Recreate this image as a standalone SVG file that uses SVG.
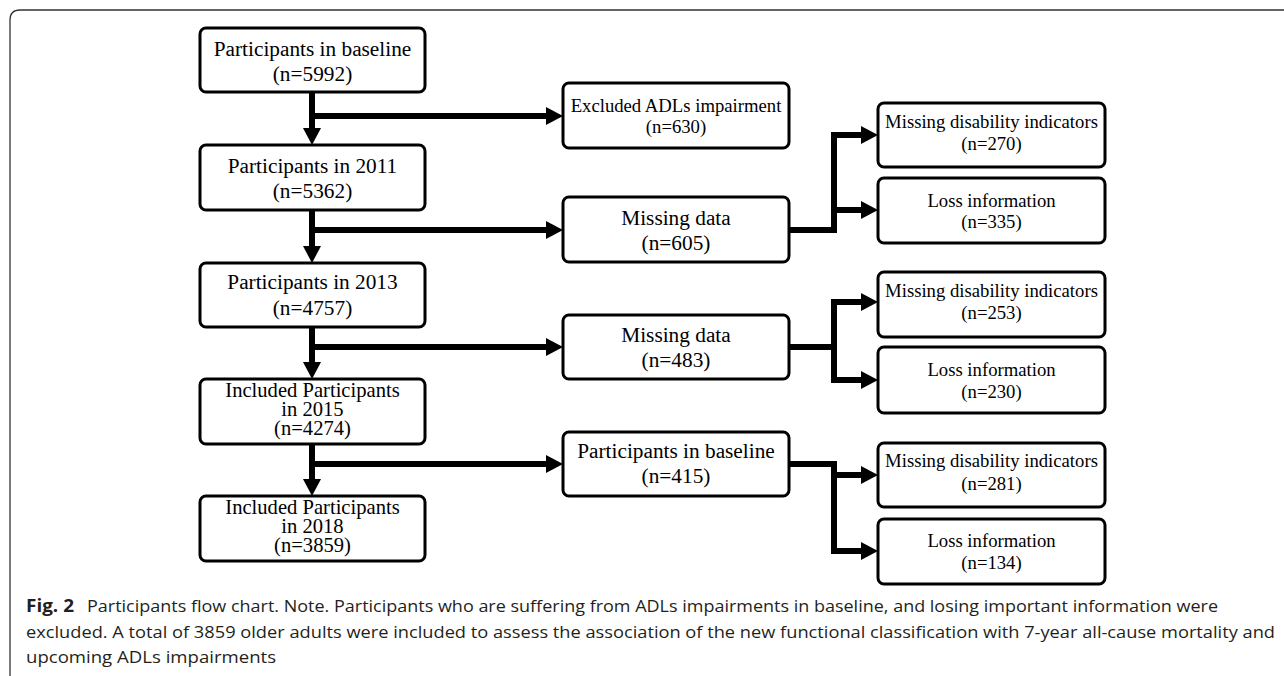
<svg xmlns="http://www.w3.org/2000/svg" width="1284" height="676" viewBox="0 0 1284 676">
<style>
.box{fill:#fff;stroke:#000;stroke-width:3}
.t{font-family:"Liberation Serif","Times New Roman",serif;font-size:21.3px;fill:#000;text-anchor:middle}
.t3{font-family:"Liberation Serif","Times New Roman",serif;font-size:20.6px;fill:#000;text-anchor:middle}
.s{font-family:"Liberation Serif","Times New Roman",serif;font-size:18.7px;fill:#000;text-anchor:middle}
.c{font-family:"Open Sans","Noto Sans",sans-serif;font-size:17px;fill:#231f20}
.cb{font-weight:bold}
.ln{fill:none;stroke:#000;stroke-width:6;stroke-linejoin:miter}
.ar{fill:none;stroke:#000;stroke-width:6;stroke-linejoin:miter;marker-end:url(#ah)}
</style>
<defs>
<marker id="ah" markerUnits="userSpaceOnUse" markerWidth="17" markerHeight="18" refX="7" refY="9" orient="auto" viewBox="0 0 17 18">
<path d="M0,0 L17,9 L0,18 z" fill="#000"/>
</marker>
</defs>
<rect width="1284" height="676" fill="#fff"/>
<path d="M10,676 V20 Q10,10 20,10 H1284" fill="none" stroke="#333" stroke-width="1.3"/>

<g id="connectors">
<path class="ar" d="M312,92 V135"/>
<path class="ar" d="M312,116 H553"/>
<path class="ar" d="M312,210 V253"/>
<path class="ar" d="M312,230 H553"/>
<path class="ar" d="M312,327 V369"/>
<path class="ar" d="M312,347 H553"/>
<path class="ar" d="M312,444 V486"/>
<path class="ar" d="M312,464 H553"/>
<path class="ar" d="M789,230 H834 V135 H868"/>
<path class="ar" d="M834,210 H868"/>
<path class="ln" d="M789,347 H834"/>
<path class="ar" d="M834,383 V302 H868"/>
<path class="ar" d="M831,380 H868"/>
<path class="ar" d="M789,464 H834 V551 H868"/>
<path class="ar" d="M834,475 H868"/>
</g>

<g id="n1"><rect class="box" x="200" y="28" width="225" height="64" rx="6"/>
<text class="t" x="312.5" y="56">Participants in baseline</text><text class="t" x="312.5" y="81">(n=5992)</text></g>
<g id="n2"><rect class="box" x="200" y="145" width="225" height="65" rx="6"/>
<text class="t" x="312.5" y="173">Participants in 2011</text><text class="t" x="312.5" y="198">(n=5362)</text></g>
<g id="n3"><rect class="box" x="200" y="263" width="225" height="64" rx="6"/>
<text class="t" x="312.5" y="289">Participants in 2013</text><text class="t" x="312.5" y="315">(n=4757)</text></g>
<g id="n4"><rect class="box" x="200" y="379" width="225" height="65" rx="6"/>
<text class="t3" x="312.5" y="397">Included Participants</text><text class="t3" x="312.5" y="416">in 2015</text><text class="t3" x="312.5" y="435">(n=4274)</text></g>
<g id="n5"><rect class="box" x="200" y="496" width="225" height="65" rx="6"/>
<text class="t3" x="312.5" y="514">Included Participants</text><text class="t3" x="312.5" y="533">in 2018</text><text class="t3" x="312.5" y="552">(n=3859)</text></g>

<g id="m1"><rect class="box" x="563" y="83" width="226" height="65" rx="6"/>
<text class="s" x="676" y="112">Excluded ADLs impairment</text><text class="s" x="676" y="133">(n=630)</text></g>
<g id="m2"><rect class="box" x="563" y="197" width="226" height="65" rx="6"/>
<text class="t" x="676" y="225">Missing data</text><text class="t" x="676" y="250">(n=605)</text></g>
<g id="m3"><rect class="box" x="563" y="315" width="226" height="64" rx="6"/>
<text class="t" x="676" y="342">Missing data</text><text class="t" x="676" y="367">(n=483)</text></g>
<g id="m4"><rect class="box" x="563" y="432" width="226" height="64" rx="6"/>
<text class="t" x="676" y="458">Participants in baseline</text><text class="t" x="676" y="483">(n=415)</text></g>

<g id="r1"><rect class="box" x="878" y="103" width="227" height="64" rx="6"/>
<text class="s" x="991.5" y="128">Missing disability indicators</text><text class="s" x="991.5" y="150">(n=270)</text></g>
<g id="r2"><rect class="box" x="878" y="178" width="227" height="65" rx="6"/>
<text class="s" x="991.5" y="207">Loss information</text><text class="s" x="991.5" y="228">(n=335)</text></g>
<g id="r3"><rect class="box" x="878" y="272" width="227" height="65" rx="6"/>
<text class="s" x="991.5" y="297">Missing disability indicators</text><text class="s" x="991.5" y="319">(n=253)</text></g>
<g id="r4"><rect class="box" x="878" y="347" width="227" height="66" rx="6"/>
<text class="s" x="991.5" y="376">Loss information</text><text class="s" x="991.5" y="398">(n=230)</text></g>
<g id="r5"><rect class="box" x="878" y="443" width="227" height="64" rx="6"/>
<text class="s" x="991.5" y="467">Missing disability indicators</text><text class="s" x="991.5" y="490">(n=281)</text></g>
<g id="r6"><rect class="box" x="878" y="519" width="227" height="65" rx="6"/>
<text class="s" x="991.5" y="547">Loss information</text><text class="s" x="991.5" y="569">(n=134)</text></g>

<g id="caption">
<text class="c cb" x="26" y="612" textLength="48" lengthAdjust="spacingAndGlyphs">Fig. 2</text>
<text class="c" x="87" y="612" textLength="1131" lengthAdjust="spacingAndGlyphs">Participants flow chart. Note. Participants who are suffering from ADLs impairments in baseline, and losing important information were</text>
<text class="c" x="26" y="638" textLength="1249" lengthAdjust="spacingAndGlyphs">excluded. A total of 3859 older adults were included to assess the association of the new functional classification with 7-year all-cause mortality and</text>
<text class="c" x="26" y="663" textLength="250" lengthAdjust="spacingAndGlyphs">upcoming ADLs impairments</text>
</g>
</svg>
